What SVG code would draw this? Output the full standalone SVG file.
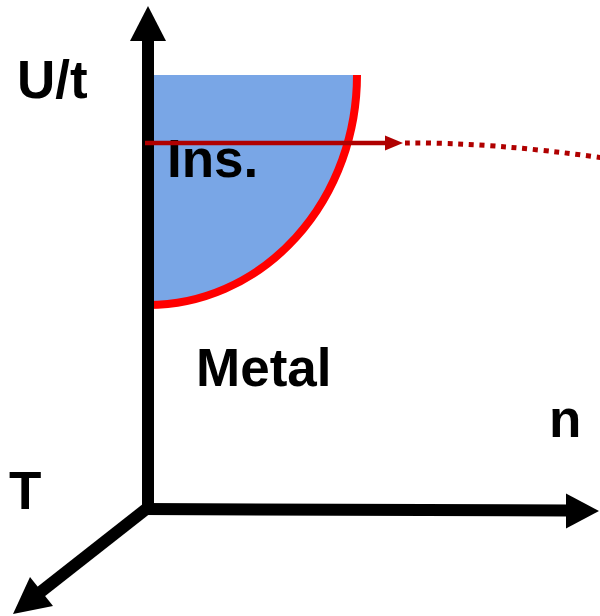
<svg xmlns="http://www.w3.org/2000/svg" width="600" height="616" viewBox="0 0 600 616">
<style>
.lbl{font-family:"Liberation Sans",Arial,sans-serif;font-weight:bold;font-size:53px;fill:#000}
.axis{stroke:#000;stroke-width:12;fill:none}
</style>
<rect width="600" height="616" fill="#fff"/>
<g id="insulator">
<path d="M148,75 L357,75 A209,230 0 0 1 148,305 Z" fill="#79A6E6"/>
<path d="M357,75 A209,230 0 0 1 148,305" fill="none" stroke="#FF0000" stroke-width="8"/>
<text class="lbl" x="167" y="177">Ins.</text>
</g>
<g id="metal">
<text class="lbl" x="196" y="386">Metal</text>
</g>
<g id="labels">
<text class="lbl" x="17" y="98">U/t</text>
<text class="lbl" x="549" y="437">n</text>
<text class="lbl" x="9" y="509">T</text>
</g>
<g id="connectors">
<line class="axis" x1="148" y1="38" x2="148" y2="514"/>
<polygon points="148,6 130,41 166,41" fill="#000"/>
<line class="axis" x1="142" y1="509" x2="570" y2="510.5"/>
<polygon points="599,511 566,493.5 566,528.5" fill="#000"/>
<line class="axis" x1="150" y1="506" x2="38" y2="594"/>
<polygon points="13,614 30,577 53,606" fill="#000"/>
<line x1="145" y1="143" x2="388" y2="143" stroke="#B00000" stroke-width="4.5"/>
<polygon points="403,143 385,135.5 385,150.5" fill="#B00000"/>
<path d="M405,143 Q490,142 604,158" fill="none" stroke="#B00000" stroke-width="5" stroke-dasharray="5 5.7"/>
</g>
</svg>
